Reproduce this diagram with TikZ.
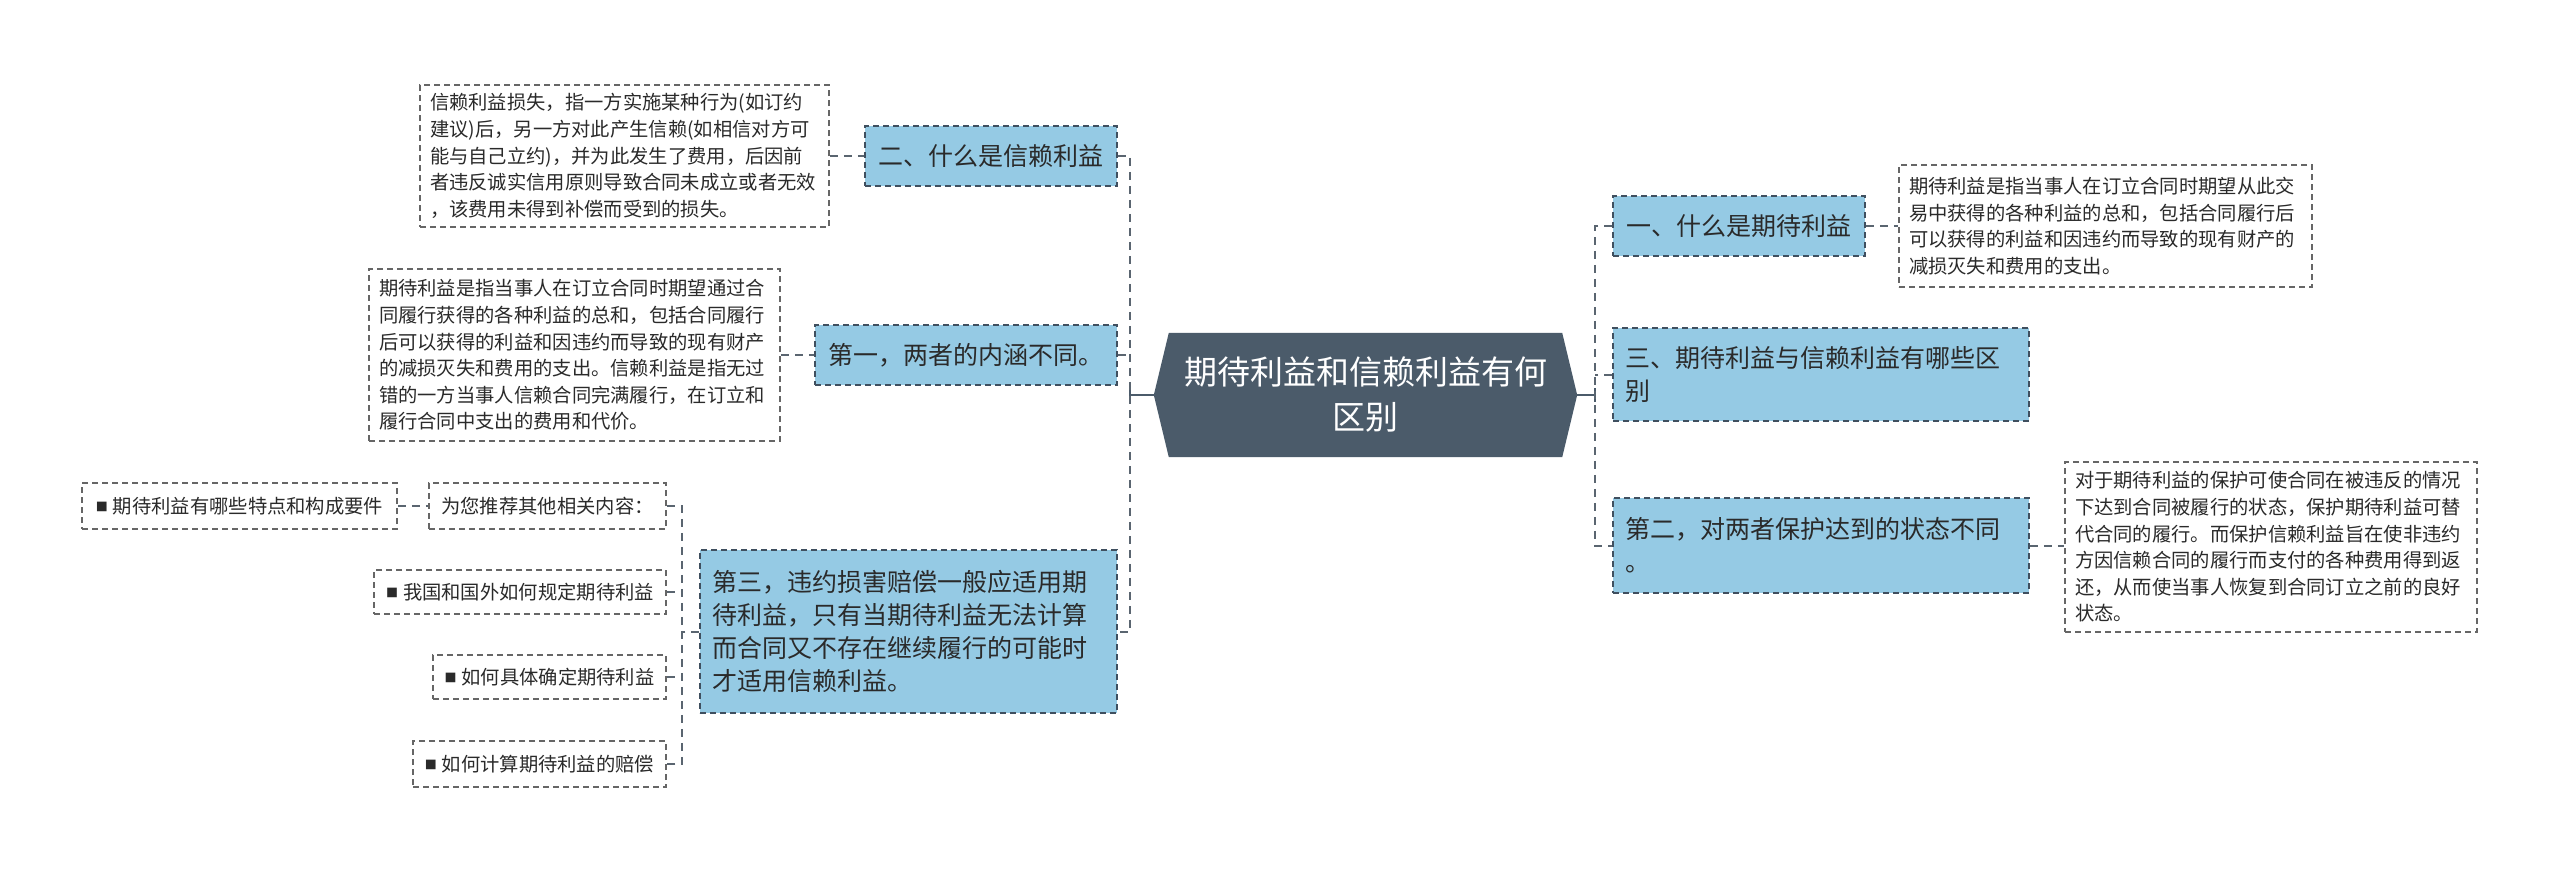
\documentclass[tikz,border=0pt]{standalone}
\usepackage{fontspec}
\setmainfont{Noto Sans CJK SC}
\usetikzlibrary{backgrounds}
\definecolor{bluefill}{HTML}{95CAE4}
\definecolor{blueline}{HTML}{3F4F5F}
\definecolor{tline}{HTML}{666666}
\definecolor{cline}{HTML}{5A6570}
\definecolor{hexfill}{HTML}{4B5B6A}
\definecolor{txt}{HTML}{2A2A2A}
\newcommand{\mybul}{\raisebox{1.5pt}{\fontsize{12}{12}\selectfont ■}\hspace{5pt}}
\begin{document}
\begin{tikzpicture}[x=1pt,y=-1pt,
  box/.style={rectangle, inner ysep=0pt, text=txt, dash pattern=on 6pt off 4pt, line width=1.5pt},
  bluebox/.style={box, inner xsep=12pt, fill=bluefill, draw=blueline, font=\fontsize{25}{33}\selectfont},
  textbox/.style={box, inner xsep=10pt, fill=white, draw=tline, font=\fontsize{19.3}{26.6}\selectfont},
  conn/.style={draw=cline, line width=2pt, dash pattern=on 8pt off 6pt},
  solidconn/.style={draw=hexfill, line width=2.5pt},
]
\useasboundingbox (0,0) rectangle (2560,871);

% central node
\node[font=\fontsize{33}{45}\selectfont, text=white, align=center, text width=395pt,
      minimum width=423pt, minimum height=124pt, inner sep=0pt] (C) at (1365.5,395) {期待利益和信赖利益有何\\区别};
\begin{scope}[on background layer]
\fill[hexfill] (C.west) -- ([xshift=15pt]C.north west) -- ([xshift=-15pt]C.north east) -- (C.east)
   -- ([xshift=-15pt]C.south east) -- ([xshift=15pt]C.south west) -- cycle;
\end{scope}

% right side
\node[bluebox, minimum width=252pt, minimum height=60pt] (R1) at (1739,226) {一、什么是期待利益};
\node[textbox, align=left, text width=393pt, minimum height=122pt] (R1t) at (2105.5,226)
 {期待利益是指当事人在订立合同时期望从此交\\易中获得的各种利益的总和，包括合同履行后\\可以获得的利益和因违约而导致的现有财产的\\减损灭失和费用的支出。};
\node[bluebox, align=left, text width=392pt, minimum height=93pt] (R2) at (1821,374.5)
 {三、期待利益与信赖利益有哪些区\\别};
\node[bluebox, align=left, text width=392pt, minimum height=95pt] (R3) at (1821,545.5)
 {第二，对两者保护达到的状态不同\\。};
\node[textbox, align=left, text width=392pt, minimum height=170pt] (R3t) at (2271,547)
 {对于期待利益的保护可使合同在被违反的情况\\下达到合同被履行的状态，保护期待利益可替\\代合同的履行。而保护信赖利益旨在使非违约\\方因信赖合同的履行而支付的各种费用得到返\\还，从而使当事人恢复到合同订立之前的良好\\状态。};

% left side
\node[bluebox, minimum width=252pt, minimum height=60pt] (L1) at (991,156) {二、什么是信赖利益};
\node[textbox, align=left, text width=389pt, minimum height=142pt] (L1t) at (624.5,156)
 {信赖利益损失，指一方实施某种行为(如订约\\建议)后，另一方对此产生信赖(如相信对方可\\能与自己立约)，并为此发生了费用，后因前\\者违反诚实信用原则导致合同未成立或者无效\\，该费用未得到补偿而受到的损失。};
\node[bluebox, minimum width=302pt, minimum height=60pt] (L2) at (966,355) {第一，两者的内涵不同。};
\node[textbox, align=left, text width=391pt, minimum height=172pt] (L2t) at (574.5,355)
 {期待利益是指当事人在订立合同时期望通过合\\同履行获得的各种利益的总和，包括合同履行\\后可以获得的利益和因违约而导致的现有财产\\的减损灭失和费用的支出。信赖利益是指无过\\错的一方当事人信赖合同完满履行，在订立和\\履行合同中支出的费用和代价。};
\node[bluebox, align=left, text width=393pt, minimum height=163pt] (L3) at (908.5,631.5)
 {第三，违约损害赔偿一般应适用期\\待利益，只有当期待利益无法计算\\而合同又不存在继续履行的可能时\\才适用信赖利益。};

% recommendation nodes
\node[textbox, minimum width=237pt, minimum height=46pt] (S0) at (547.5,506) {为您推荐其他相关内容：};
\node[textbox, minimum width=315pt, minimum height=46pt] (S00) at (239.5,506) {\mybul 期待利益有哪些特点和构成要件};
\node[textbox, minimum width=292pt, minimum height=44pt] (S1) at (520,592) {\mybul 我国和国外如何规定期待利益};
\node[textbox, minimum width=233pt, minimum height=44pt] (S2) at (549.5,677) {\mybul 如何具体确定期待利益};
\node[textbox, minimum width=253pt, minimum height=46pt] (S3) at (539.5,764) {\mybul 如何计算期待利益的赔偿};

% bars
\coordinate (rb) at (1595,395);
\coordinate (lb) at (1130,395);
\coordinate (sb) at (682,632);

% central connectors
\draw[solidconn] (C.east) -- (rb);
\draw[solidconn] ([yshift=-7pt]rb) -- ([yshift=7pt]rb);
\draw[solidconn] (C.west) -- (lb);
\draw[solidconn] ([yshift=-7pt]lb) -- ([yshift=7pt]lb);

% right connectors
\draw[conn] (R1.west) -- (R1.west -| rb) -- (R3.west -| rb) -- (R3.west);
\draw[conn] (R2.west) -- (R2.west -| rb);
\draw[conn] (R1.east) -- (R1t.west);
\draw[conn] (R3.east) -- (R3.east -| R3t.west);

% left connectors
\draw[conn] (L1.east) -- (L1.east -| lb) -- (L3.east -| lb) -- (L3.east);
\draw[conn] (L2.east) -- (L2.east -| lb);
\draw[conn] (L1t.east) -- (L1.west);
\draw[conn] (L2t.east) -- (L2.west);

% recommendation connectors
\draw[conn] (S0.east) -- (S0.east -| sb) -- (S3.east -| sb) -- (S3.east);
\draw[conn] (S1.east) -- (S1.east -| sb);
\draw[conn] (S2.east) -- (S2.east -| sb);
\draw[conn] (L3.west) -- (L3.west -| sb);
\draw[conn] (S00.east) -- (S0.west);
\end{tikzpicture}
\end{document}
